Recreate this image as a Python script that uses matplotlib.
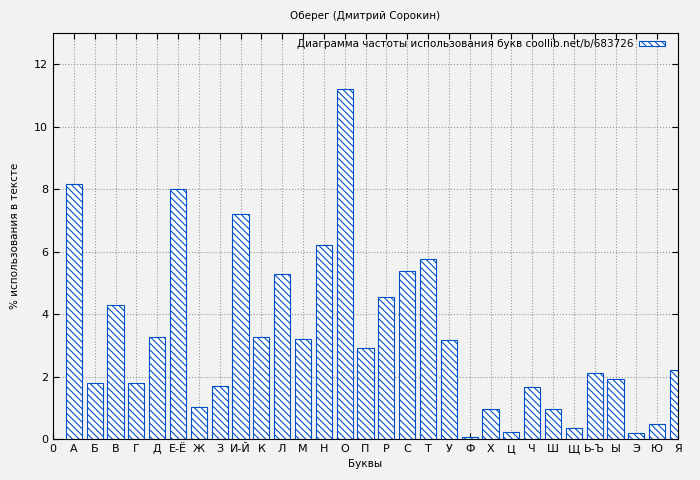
import matplotlib.pyplot as plt

letters = ["А", "Б", "В", "Г", "Д", "Е-Ё", "Ж", "З", "И-Й", "К", "Л", "М", "Н", "О", "П",
           "Р", "С", "Т", "У", "Ф", "Х", "Ц", "Ч", "Ш", "Щ", "Ь-Ъ", "Ы", "Э", "Ю", "Я"]
values = [8.16, 1.79, 4.29, 1.79, 3.26, 8.0, 1.02, 1.70, 7.2, 3.26, 5.28, 3.2, 6.21, 11.2, 2.91,
          4.54, 5.38, 5.76, 3.17, 0.06, 0.96, 0.22, 1.66, 0.96, 0.35, 2.11, 1.92, 0.19, 0.48, 2.21]

plt.rcParams["hatch.color"] = "#0050c8"
plt.rcParams["hatch.linewidth"] = 0.8

fig = plt.figure(figsize=(7, 4.8), dpi=100, facecolor="#f2f2f2")
ax = fig.add_axes([53/700, 1-439/480, 625/700, 406/480])
ax.set_facecolor("#f2f2f2")

pos = list(range(1, len(letters) + 1))
ax.bar(pos, values, width=0.77, color="white", edgecolor="#0050c8", linewidth=0.8,
       hatch="\\\\\\\\\\", label="Диаграмма частоты использования букв coollib.net/b/683726", zorder=2)

ax.set_xlim(0, 30)
ax.set_ylim(0, 13)
ax.set_xticks([0] + pos)
ax.set_xticklabels(["0"] + letters, fontsize=8)
ax.set_yticks(range(0, 13, 2))
ax.tick_params(axis="y", labelsize=8)
ax.tick_params(direction="in", top=True, right=True, length=4)
ax.grid(True, color="#999999", linestyle=":", linewidth=0.8, zorder=0)
ax.set_axisbelow(True)

ax.set_xlabel("Буквы", fontsize=7.5)
ax.set_ylabel("% использования в тексте", fontsize=7.5, labelpad=10)
fig.text(365/700, 1-16/480, "Оберег (Дмитрий Сорокин)", ha="center", va="center", fontsize=7.5)

leg = ax.legend(loc="upper right", fontsize=7.5, frameon=False, markerfirst=False,
                handlelength=2.5, handleheight=0.4, borderaxespad=0.2, handletextpad=0.6,
                bbox_to_anchor=(0.99, 1.0))

fig.savefig("out.png", dpi=100, facecolor=fig.get_facecolor())
